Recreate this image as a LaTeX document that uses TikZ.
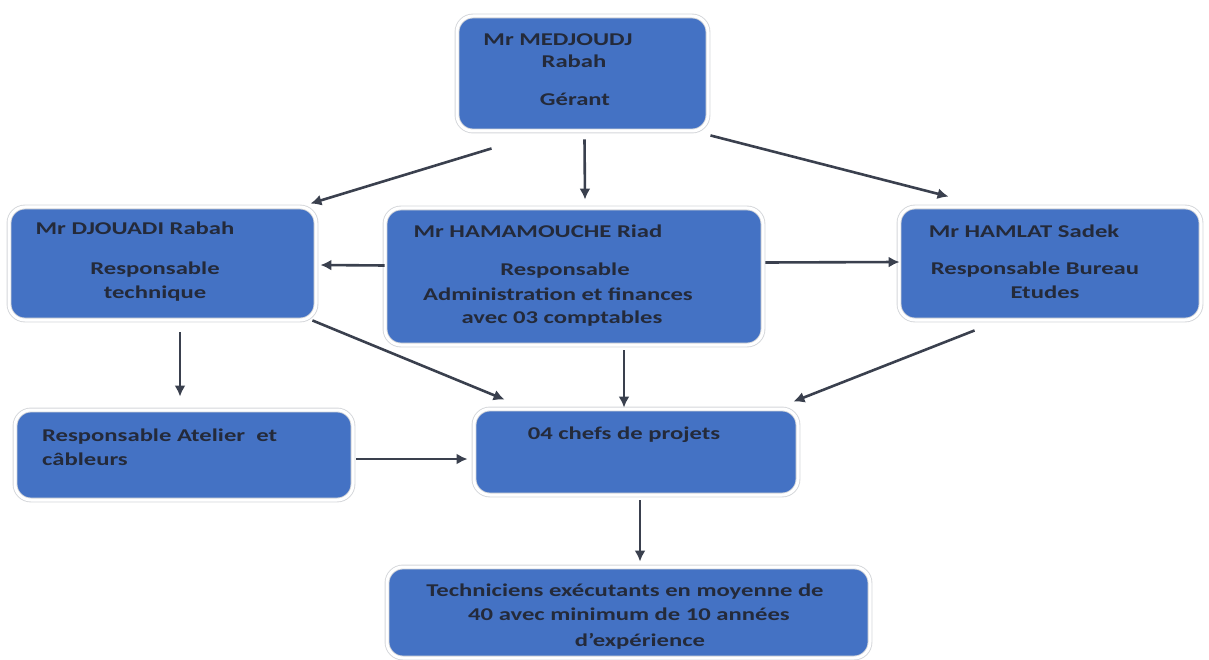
\documentclass[tikz,border=0pt]{standalone}
\usepackage{fontspec}
\setmainfont{Carlito}[FakeStretch=1.37]
\usetikzlibrary{arrows.meta,shadows}

\definecolor{boxblue}{RGB}{68,114,196}
\definecolor{ink}{RGB}{36,42,58}
\definecolor{arrowgray}{RGB}{58,64,78}
\definecolor{rimgray}{RGB}{212,214,218}

\begin{document}
\begin{tikzpicture}[x=1pt,y=-1pt,
  orgbox/.style={draw=rimgray, line width=0.9pt, double=white, double distance=3pt,
    fill=boxblue, rounded corners=16pt, inner sep=0pt,
    drop shadow={shadow xshift=1.2pt, shadow yshift=-1.6pt, fill=black!35, opacity=0.45}},
  lbl/.style={text=ink, font=\bfseries\fontsize{18}{22}\selectfont, anchor=base, inner sep=0pt},
  arr/.style={draw=arrowgray, line width=2.6pt, -{Latex[length=11pt,width=11pt]}}]

\useasboundingbox (0,0) rectangle (1209,660);

% boxes
\node[orgbox, minimum width=251pt, minimum height=115pt] (top)  at (582.5,73.5) {};
\node[orgbox, minimum width=307pt, minimum height=113pt] (dj)   at (162.5,263.5) {};
\node[orgbox, minimum width=378pt, minimum height=137pt] (ham)  at (574,276.5) {};
\node[orgbox, minimum width=302pt, minimum height=113pt] (hl)   at (1050,263.5) {};
\node[orgbox, minimum width=338pt, minimum height=90pt]  (at)   at (184,455) {};
\node[orgbox, minimum width=324pt, minimum height=86pt]  (ch)   at (636,452) {};
\node[orgbox, minimum width=483pt, minimum height=91pt]  (tech) at (628.5,612.5) {};

% labels
\node[lbl] (t1) at (558,46) {Mr MEDJOUDJ};
\node[lbl] (t2) at (574,68) {Rabah};
\node[lbl] (t3) at (575,106) {Gérant};

\node[lbl] (d1) at (135,235) {Mr DJOUADI Rabah};
\node[lbl] (d2) at (155,274) {Responsable};
\node[lbl] (d3) at (155,298) {technique};

\node[lbl] (h1) at (538,238) {Mr HAMAMOUCHE Riad};
\node[lbl] (h2) at (565,276) {Responsable};
\node[lbl] (h3) at (558,300) {Administration et finances};
\node[lbl] (h4) at (562,323) {avec 03 comptables};

\node[lbl] (l1) at (1024,237) {Mr HAMLAT Sadek};
\node[lbl] (l2) at (1035,274) {Responsable Bureau};
\node[lbl] (l3) at (1045,298) {Etudes};

\node[lbl, anchor=base west] (a1) at (42,441) {Responsable Atelier\ \ et};
\node[lbl, anchor=base west] (a2) at (42,465) {câbleurs};

\node[lbl] (c1) at (624,439) {04 chefs de projets};

\node[lbl] (e1) at (625,596) {Techniciens exécutants en moyenne de};
\node[lbl] (e2) at (629,620) {40 avec minimum de 10 années};
\node[lbl] (e3) at (640,646) {d’expérience};

% connectors
\draw[arr] ([shift={(35,17)}]top.south west) -- ([shift={(-6,-3)}]dj.north east);
\draw[arr] ([shift={(2,8)}]top.south) -- ([shift={(11,-8)}]ham.north);
\draw[arr] ([shift={(2,4)}]top.south east) -- ([shift={(50,-10)}]hl.north west);
\draw[arr] ([shift={(0,-11)}]ham.west) -- ([shift={(4,1.5)}]dj.east);
\draw[arr] ([shift={(2,-14)}]ham.east) -- ([shift={(1,-1.5)}]hl.west);
\draw[arr] ([shift={(-4,0)}]dj.south east) -- ([shift={(31,-9)}]ch.north west);
\draw[arr] ([shift={(50,5)}]ham.south) -- ([shift={(-12,-1)}]ch.north);
\draw[arr] ([shift={(76,10)}]hl.south west) -- ([shift={(-5,-7)}]ch.north east);
\draw[arr] ([shift={(17.5,12)}]dj.south) -- ([shift={(-4,-13)}]at.north);
\draw[arr] ([shift={(3,4)}]at.east) -- ([shift={(-6,7)}]ch.west);
\draw[arr] ([shift={(4,5)}]ch.south) -- ([shift={(11.5,-5)}]tech.north);
\end{tikzpicture}
\end{document}
